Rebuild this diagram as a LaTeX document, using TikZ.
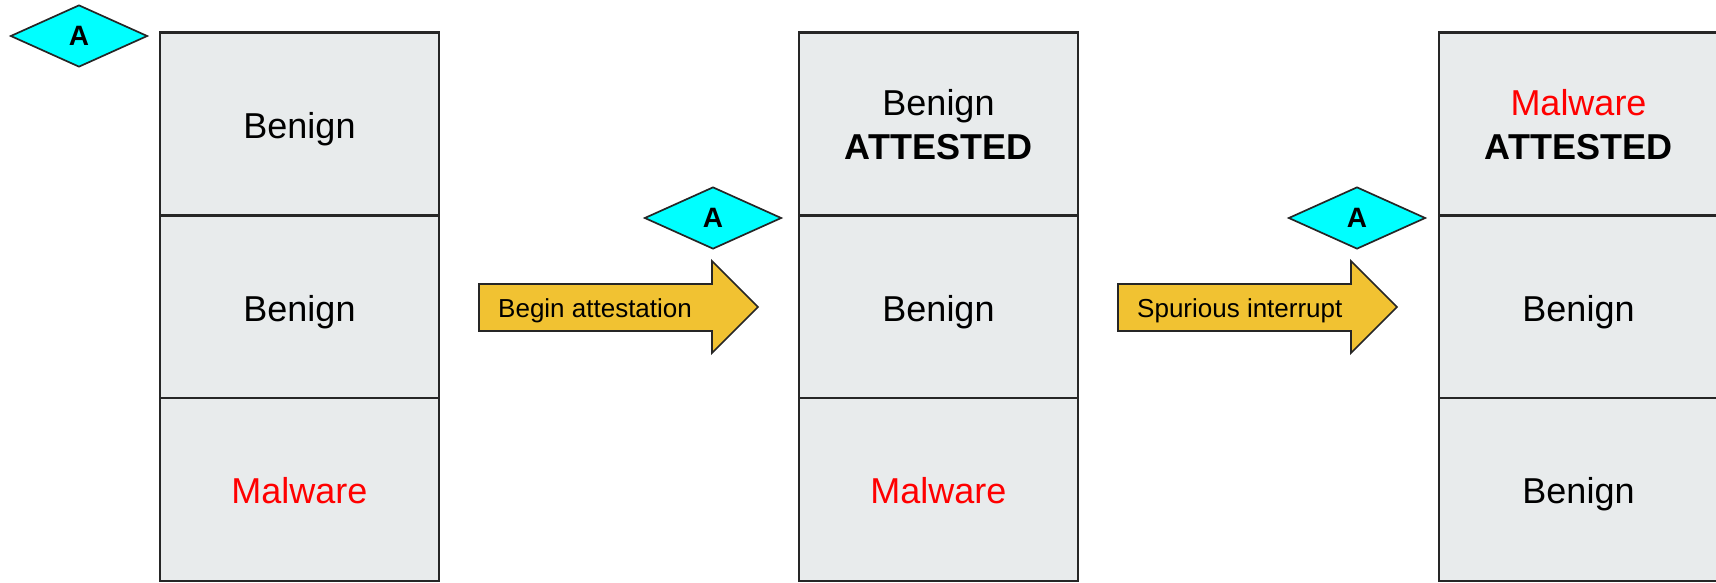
\documentclass[tikz,border=0pt]{standalone}
\usepackage{fontspec}
\setmainfont{Liberation Sans}
\usetikzlibrary{shapes.geometric}
\definecolor{cellgray}{HTML}{E8EBEC}
\definecolor{edgegray}{HTML}{262626}
\definecolor{arrowgold}{HTML}{F1C232}
\definecolor{attcyan}{HTML}{00FFFF}
\definecolor{malred}{HTML}{FF0000}
\tikzset{
  cell/.style={draw=edgegray, fill=cellgray, line width=2.2pt, rectangle,
    minimum width=279pt, minimum height=183pt, inner sep=0pt},
  celltext/.style={anchor=base, inner sep=0pt, font=\fontsize{36}{44}\selectfont},
  boldtext/.style={celltext, font=\fontsize{36}{44}\selectfont\bfseries},
  attester/.style={diamond, draw=edgegray, fill=attcyan, line width=1.7pt,
    minimum width=137pt, minimum height=62pt, inner sep=0pt,
    font=\fontsize{28}{30}\selectfont\bfseries},
  blockarrow/.style={draw=edgegray, fill=arrowgold, line width=1.7pt, line join=miter},
  arrowtext/.style={anchor=base west, inner sep=0pt, font=\fontsize{26}{30}\selectfont},
}
\begin{document}
\begin{tikzpicture}[x=1pt, y=-1pt]
\useasboundingbox (0,0) rectangle (1716,582);

% memory stack before attestation
\node[cell] (m1a) at (299.5,124) {};
\node[cell] (m1b) at (299.5,307) {};
\node[cell] (m1c) at (299.5,489.5) {};
\node[celltext] (t1a) at ([yshift=-14pt]m1a.center) {Benign};
\node[celltext] (t1b) at ([yshift=-14pt]m1b.center) {Benign};
\node[celltext, text=malred] (t1c) at ([yshift=-14pt]m1c.center) {Malware};
\node[attester] (a1) at (79,36) {A};

% memory stack after the first region is attested
\node[cell] (m2a) at (938.5,124) {};
\node[cell] (m2b) at (938.5,307) {};
\node[cell] (m2c) at (938.5,489.5) {};
\node[celltext] (t2a) at ([yshift=9pt]m2a.center) {Benign};
\node[boldtext] (t2a2) at ([yshift=-35pt]m2a.center) {ATTESTED};
\node[celltext] (t2b) at ([yshift=-14pt]m2b.center) {Benign};
\node[celltext, text=malred] (t2c) at ([yshift=-14pt]m2c.center) {Malware};
\node[attester] (a2) at (713,218) {A};

% memory stack after the malware relocates
\node[cell] (m3a) at (1578.5,124) {};
\node[cell] (m3b) at (1578.5,307) {};
\node[cell] (m3c) at (1578.5,489.5) {};
\node[celltext, text=malred] (t3a) at ([yshift=9pt]m3a.center) {Malware};
\node[boldtext] (t3a2) at ([yshift=-35pt]m3a.center) {ATTESTED};
\node[celltext] (t3b) at ([yshift=-14pt]m3b.center) {Benign};
\node[celltext] (t3c) at ([yshift=-14pt]m3c.center) {Benign};
\node[attester] (a3) at (1357,218) {A};

% block arrows between the stages
\draw[blockarrow] (479,284) -- (712,284) -- (712,261) -- (758,307) -- (712,353)
  -- (712,331) -- (479,331) -- cycle;
\node[arrowtext] (l1) at (498,317) {Begin attestation};
\draw[blockarrow] (1118,284) -- (1351,284) -- (1351,261) -- (1397,307) -- (1351,353)
  -- (1351,331) -- (1118,331) -- cycle;
\node[arrowtext] (l2) at (1137,317) {Spurious interrupt};
\end{tikzpicture}
\end{document}
